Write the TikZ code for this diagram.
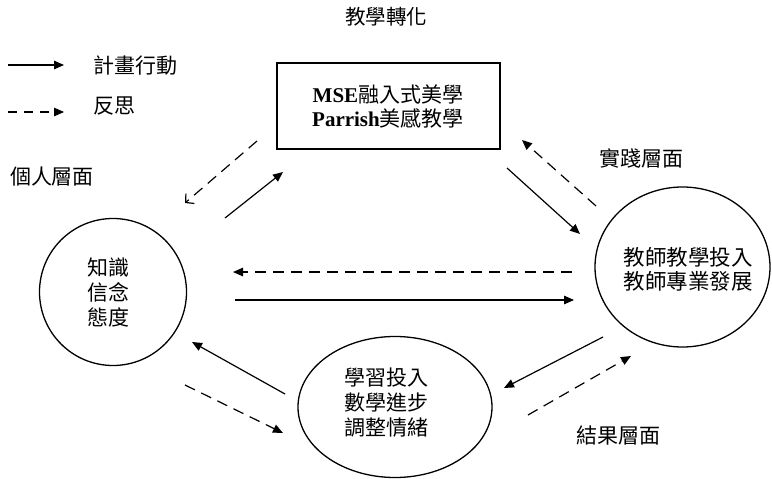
\documentclass[tikz,border=0pt]{standalone}
\usepackage{fontspec}
\setmainfont{Liberation Serif}
\newfontfamily\cjk{Noto Sans CJK TC}
\usetikzlibrary{arrows.meta,shapes.geometric}
\tikzset{
  txt/.style={font=\cjk\fontsize{21}{25}\selectfont, align=center, inner sep=0pt},
  ring/.style={draw, ellipse, line width=1.3pt, inner sep=0pt},
  solidarr/.style={line width=1.2pt, -{Triangle[length=10pt,width=8.5pt]}},
  dasharr/.style={line width=1.2pt, dash pattern=on 11pt off 7pt, -{Triangle[length=10pt,width=8.5pt]}},
  openarr/.style={line width=1.2pt, dash pattern=on 11pt off 7pt, -{Straight Barb[length=6pt,width=13pt]}},
}
\begin{document}
\begin{tikzpicture}[x=1pt,y=-1pt]
\useasboundingbox (0,0) rectangle (772,479);
% title
\node[txt, font=\cjk\fontsize{20.5}{25}\selectfont] (title) at (386,17) {教學轉化};
% legend
\coordinate (la1) at (8,65);  \coordinate (lb1) at (64,65);
\coordinate (la2) at (8,112); \coordinate (lb2) at (64,112);
\draw[solidarr] (la1) -- (lb1);
\draw[dasharr, dash pattern=on 9pt off 7pt] (la2) -- (lb2);
\node[txt] (leg1) at (135,66) {計畫行動};
\node[txt] (leg2) at (114,106) {反思};
% level labels
\node[txt] (personal) at (52,177) {個人層面};
\node[txt] (practice) at (641,158) {實踐層面};
\node[txt] (result) at (618,435) {結果層面};
% box
\node[draw, line width=1.3pt, minimum width=223pt, minimum height=86pt, inner sep=0pt] (box) at (388.5,106) {};
\node[font=\fontsize{21}{24}\selectfont, align=center, inner sep=0pt] (boxt) at (388,107)
  {\textbf{MSE}{\cjk 融入式美學}\\\textbf{Parrish}{\cjk 美感教學}};
% circles
\node[ring, minimum width=147pt, minimum height=147pt] (left) at (113,292) {};
\node[txt] (leftt) at (108,292.5) {知識\\信念\\態度};
\node[ring, minimum width=175pt, minimum height=160pt] (right) at (682.5,267) {};
\node[txt, font=\cjk\fontsize{21.5}{24}\selectfont] (rightt) at (688,269) {教師教學投入\\教師專業發展};
\node[ring, minimum width=194pt, minimum height=141pt] (bottom) at (395,407) {};
\node[txt] (bottomt) at (386,402.5) {學習投入\\數學進步\\調整情緒};
% arrow endpoints
\coordinate (a1s) at (257,141); \coordinate (a1e) at (185,203);
\coordinate (a2s) at (225,218); \coordinate (a2e) at (283,172);
\coordinate (a3s) at (507,168); \coordinate (a3e) at (580,234);
\coordinate (a4s) at (596,206); \coordinate (a4e) at (522,140);
\coordinate (a5s) at (572,272); \coordinate (a5e) at (233,272);
\coordinate (a6s) at (235,300); \coordinate (a6e) at (574,300);
\coordinate (a7s) at (285,394); \coordinate (a7e) at (192,342);
\coordinate (a8s) at (185,385); \coordinate (a8e) at (283,433);
\coordinate (a9s) at (603,337); \coordinate (a9e) at (504,388);
\coordinate (a10s) at (528,415); \coordinate (a10e) at (631,356);
\draw[openarr] (a1s) -- (a1e);
\draw[solidarr] (a2s) -- (a2e);
\draw[solidarr] (a3s) -- (a3e);
\draw[dasharr] (a4s) -- (a4e);
\draw[dasharr] (a5s) -- (a5e);
\draw[solidarr] (a6s) -- (a6e);
\draw[solidarr] (a7s) -- (a7e);
\draw[dasharr] (a8s) -- (a8e);
\draw[solidarr] (a9s) -- (a9e);
\draw[dasharr] (a10s) -- (a10e);
\end{tikzpicture}
\end{document}
